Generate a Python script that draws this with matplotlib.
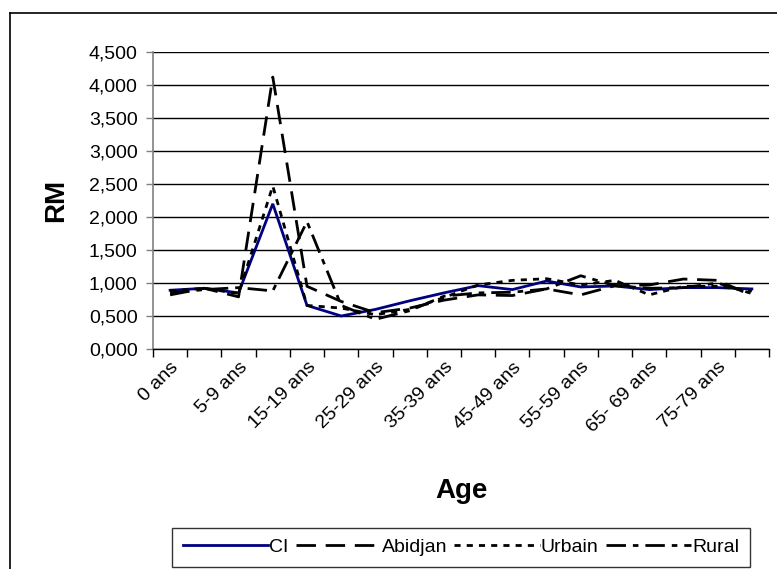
import matplotlib
matplotlib.use("Agg")
import matplotlib.pyplot as plt
from matplotlib.ticker import FuncFormatter, FixedLocator
from matplotlib.lines import Line2D

plt.rcParams['font.family'] = ['Liberation Sans', 'DejaVu Sans']

# Age groups
categories = ["0 ans", "1-4 ans", "5-9 ans", "10-14 ans", "15-19 ans", "20-24 ans",
              "25-29 ans", "30-34 ans", "35-39 ans", "40-44 ans", "45-49 ans",
              "50-54 ans", "55-59 ans", "60-64 ans", "65- 69 ans", "70-74 ans",
              "75-79 ans", "80 ans +"]

# Sex ratio (RM) by age group
ci      = [0.89, 0.92, 0.85, 2.20, 0.66, 0.50, 0.60, 0.73, 0.85, 0.96, 0.90, 1.03, 0.94, 0.955, 0.90, 0.93, 0.93, 0.91]
abidjan = [0.82, 0.92, 0.79, 4.12, 0.95, 0.72, 0.55, 0.62, 0.74, 0.82, 0.81, 0.91, 0.82, 0.96, 0.97, 1.06, 1.04, 0.81]
urbain  = [0.88, 0.92, 0.84, 2.47, 0.66, 0.62, 0.52, 0.60, 0.78, 0.97, 1.04, 1.065, 0.97, 1.04, 0.82, 0.95, 0.95, 0.88]
rural   = [0.85, 0.90, 0.93, 0.88, 1.93, 0.66, 0.45, 0.58, 0.80, 0.85, 0.86, 0.91, 1.11, 0.96, 0.92, 0.93, 1.00, 0.84]

y_ticks = [0.0, 0.5, 1.0, 1.5, 2.0, 2.5, 3.0, 3.5, 4.0, 4.5]

fig = plt.figure(figsize=(7.77, 5.69), dpi=100)
ax = fig.add_axes([153 / 777, 1 - 349 / 569, (769 - 153) / 777, (349 - 52) / 569])

x = list(range(len(categories)))
lw = 2.0
ax.plot(x, ci, color="#000080", lw=lw, solid_joinstyle="miter", label="CI")
ax.plot(x, abidjan, color="black", lw=lw, dashes=(7, 3.5), label="Abidjan")
ax.plot(x, urbain, color="black", lw=lw, dashes=(2.2, 2.2), label="Urbain")
ax.plot(x, rural, color="black", lw=lw, dashes=(7, 2.5, 2, 2.5), label="Rural")

ax.set_xlim(-0.5, len(categories) - 0.5)
ax.set_ylim(0, 4.5)

# y axis
ax.set_yticks(y_ticks)
ax.yaxis.set_major_formatter(FuncFormatter(lambda v, p: f"{v:.3f}".replace(".", ",")))
ax.grid(axis="y", color="black", lw=1.0)
ax.set_axisbelow(True)
ax.tick_params(axis="y", direction="out", length=5, width=1, color="#808080",
               labelsize=14, pad=6)

# x axis: ticks at group boundaries, labels on every other group
ax.xaxis.set_major_locator(FixedLocator([i - 0.5 for i in range(len(categories) + 1)]))
ax.xaxis.set_major_formatter(FuncFormatter(lambda v, p: ""))
label_pos = x[::2]
ax.xaxis.set_minor_locator(FixedLocator(label_pos))
ax.set_xticklabels([categories[i] for i in label_pos], minor=True)
ax.tick_params(axis="x", which="major", direction="out", length=6, width=1, color="black")
ax.tick_params(axis="x", which="minor", length=0, labelsize=14, pad=7)
for lab in ax.get_xticklabels(minor=True):
    lab.set_rotation(45)
    lab.set_ha("right")
    lab.set_va("top")
    lab.set_rotation_mode("anchor")

for side in ["top", "right"]:
    ax.spines[side].set_visible(False)
ax.spines["left"].set_color("#808080")
ax.spines["left"].set_linewidth(1.2)
ax.spines["bottom"].set_color("black")
ax.spines["bottom"].set_linewidth(1.0)

ax.set_ylabel("RM", fontsize=20, fontweight="bold", labelpad=14)
ax.set_xlabel("Age", fontsize=20, fontweight="bold", labelpad=30)

leg = ax.legend(loc="center", bbox_to_anchor=(461 / 777, 1 - 547 / 569),
                bbox_transform=fig.transFigure, ncol=4, fontsize=14,
                frameon=True, fancybox=False, handlelength=4.4,
                handletextpad=0.05, columnspacing=0.35, borderpad=0.55,
                borderaxespad=0)
leg.get_frame().set_edgecolor("black")
leg.get_frame().set_linewidth(1.0)

# outer chart border
fig.add_artist(Line2D([10 / 777, 10 / 777], [0, 1 - 13 / 569], color="black", lw=1.2,
                      transform=fig.transFigure))
fig.add_artist(Line2D([10 / 777, 1], [1 - 13 / 569, 1 - 13 / 569], color="black", lw=1.2,
                      transform=fig.transFigure))

fig.savefig("out.png", dpi=100)
